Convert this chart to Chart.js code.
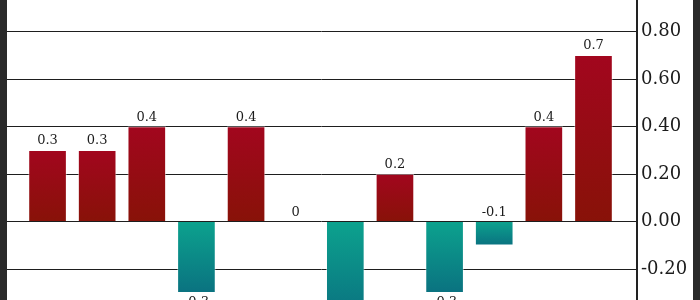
<!DOCTYPE html>
<html>
<head>
<meta charset="utf-8">
<script src="https://cdn.jsdelivr.net/npm/chart.js@4/dist/chart.umd.min.js"></script>
<style>
    html, body { margin: 0; padding: 0; }
    body {
        width: 700px;
        height: 300px;
        overflow: hidden;
        position: relative;
        background: #2a2a2a;
    }
    #wrap {
        position: absolute;
        left: 7px;
        top: -36.5px;
        width: 686px;
        height: 420px;
        background: #ffffff;
    }
</style>
</head>
<body>
<div id="wrap"><canvas id="barChart"></canvas></div>
<script>
// Chart data
const categories = ['1', '2', '3', '4', '5', '6', '7', '8', '9', '10', '11', '12'];
const values = [0.3, 0.3, 0.4, -0.3, 0.4, 0, -0.4, 0.2, -0.3, -0.1, 0.4, 0.7];
const yTicks = [-0.6, -0.4, -0.2, 0, 0.2, 0.4, 0.6, 0.8, 1.0];

const textColor = '#1c1c1c';
const serif = '"DejaVu Serif", serif';

// per-bar vertical gradient
function barFill(context) {
    const chart = context.chart;
    const v = context.raw ? context.raw.y : 0;
    if (!chart.chartArea) return v < 0 ? '#0a8f8a' : '#960a16';
    const yScale = chart.scales.y;
    const top = yScale.getPixelForValue(Math.max(v, 0));
    const bottom = yScale.getPixelForValue(Math.min(v, 0));
    if (bottom - top < 1) return '#960a16';
    const g = chart.ctx.createLinearGradient(0, top, 0, bottom);
    if (v < 0) {
        g.addColorStop(0, 'rgb(12, 162, 142)');
        g.addColorStop(1, 'rgb(10, 114, 128)');
    } else {
        g.addColorStop(0, 'rgb(162, 6, 30)');
        g.addColorStop(1, 'rgb(136, 18, 8)');
    }
    return g;
}

// value labels above / below the bars
const valueLabels = {
    id: 'valueLabels',
    afterDatasetsDraw(chart) {
        const ctx = chart.ctx;
        const meta = chart.getDatasetMeta(0);
        ctx.save();
        ctx.font = '13px ' + serif;
        ctx.fillStyle = textColor;
        ctx.textAlign = 'center';
        meta.data.forEach((bar, i) => {
            const v = values[i];
            let y;
            if (v <= -0.2) {
                ctx.textBaseline = 'top';
                y = bar.y + 3;
            } else {
                ctx.textBaseline = 'alphabetic';
                y = Math.min(bar.y, bar.base) - 6;
            }
            ctx.fillText(String(v), bar.x, y);
        });
        ctx.restore();
    }
};

new Chart(document.getElementById('barChart'), {
    type: 'bar',
    data: {
        labels: categories,
        datasets: [{
            data: values.map((v, i) => ({ x: i + 1, y: v })),
            backgroundColor: barFill,
            borderColor: 'rgba(255, 255, 255, 0.45)',
            borderWidth: 1,
            barThickness: 38
        }]
    },
    options: {
        responsive: true,
        maintainAspectRatio: false,
        animation: false,
        layout: { padding: { top: 20, bottom: 20, left: 0, right: 0 } },
        plugins: {
            legend: { display: false },
            tooltip: { enabled: false }
        },
        scales: {
            x: {
                type: 'linear',
                display: false,
                offset: false,
                min: 0.183,
                max: 12.877
            },
            y: {
                position: 'right',
                min: yTicks[0],
                max: yTicks[yTicks.length - 1],
                afterBuildTicks: scale => {
                    scale.ticks = yTicks.map(v => ({ value: v }));
                },
                afterFit: scale => { scale.width = 56; },
                grid: {
                    color: '#1e1e1e',
                    lineWidth: 1,
                    drawTicks: false
                },
                border: { display: true, color: '#222222', width: 2 },
                ticks: {
                    padding: 4,
                    color: textColor,
                    font: { family: serif, size: 18 },
                    callback: v => v.toFixed(2)
                }
            }
        }
    },
    plugins: [valueLabels]
});
</script>
</body>
</html>
